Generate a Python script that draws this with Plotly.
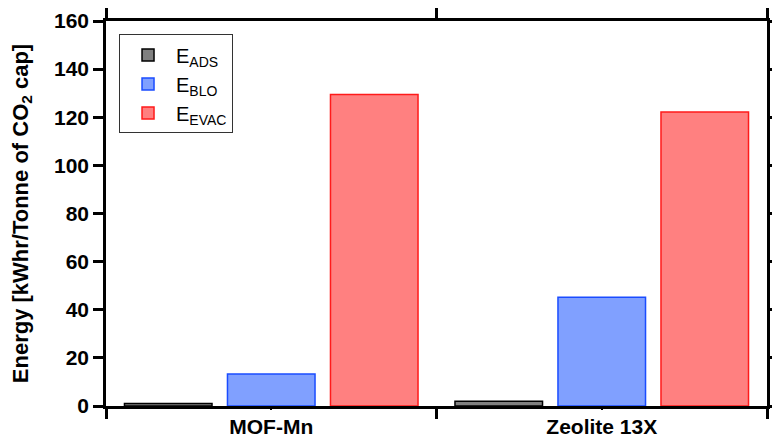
import plotly.graph_objects as go

categories = ["MOF-Mn", "Zeolite 13X"]
e_ads = [1.0, 2.0]
e_blo = [13.3, 45.2]
e_evac = [129.5, 122.2]
series_names = ["E<sub>ADS</sub>", "E<sub>BLO</sub>", "E<sub>EVAC</sub>"]
y_ticks = [0, 20, 40, 60, 80, 100, 120, 140, 160]

FONT = "Arial, Liberation Sans, sans-serif"

fig = go.Figure()
fills = ["#808080", "#80A0FF", "#FF8080"]
lines = ["#000000", "#1A4CFF", "#FF1A1A"]
for name, vals, fc, lc in zip(series_names, [e_ads, e_blo, e_evac], fills, lines):
    fig.add_trace(go.Bar(x=categories, y=vals, name=name,
                         marker=dict(color=fc, line=dict(color=lc, width=1.5))))

fig.update_layout(
    width=772, height=438,
    margin=dict(l=106, r=5, t=21, b=32, autoexpand=False),
    plot_bgcolor="white", paper_bgcolor="white",
    barmode="group", bargap=0.065, bargroupgap=0.15,
    font=dict(family=FONT, color="black"),
    showlegend=True,
    legend=dict(x=0.0197, y=0.965, xanchor="left", yanchor="top",
                bordercolor="#333333", borderwidth=1, bgcolor="white",
                font=dict(size=20, family=FONT, color="black"),
                tracegroupgap=0, itemwidth=46),
    xaxis=dict(type="category", range=[-0.5, 1.5], showline=True, linecolor="black",
               linewidth=2.5, mirror="ticks", ticks="outside", tickson="boundaries",
               ticklen=10, tickwidth=2.5, tickcolor="black", showgrid=False,
               automargin=False,
               tickfont=dict(size=21, family=FONT, color="black", weight="bold")),
    yaxis=dict(range=[0, 160], tickvals=y_ticks, showline=True, linecolor="black",
               linewidth=2.5, mirror="ticks", ticks="outside", ticklen=10,
               tickwidth=2.5, tickcolor="black", showgrid=False, zeroline=False,
               automargin=False,
               tickfont=dict(size=21, family=FONT, color="black", weight="bold"),
               title=dict(text="Energy [kWhr/Tonne of CO<sub>2</sub> cap]",
                          font=dict(size=22, family=FONT, color="black", weight="bold"),
                          standoff=20)),
    xaxis2=dict(overlaying="x", anchor="y", side="bottom", range=[-0.5, 1.5],
                tickvals=[0, 1], ticks="outside", ticklen=3, tickwidth=1.5,
                tickcolor="black", showticklabels=False, showline=False,
                showgrid=False, zeroline=False, automargin=False),
)
fig.add_trace(go.Scatter(x=[0], y=[0], xaxis="x2", mode="markers",
                         marker=dict(opacity=0), showlegend=False, hoverinfo="skip"))

fig.write_html("out.html")
